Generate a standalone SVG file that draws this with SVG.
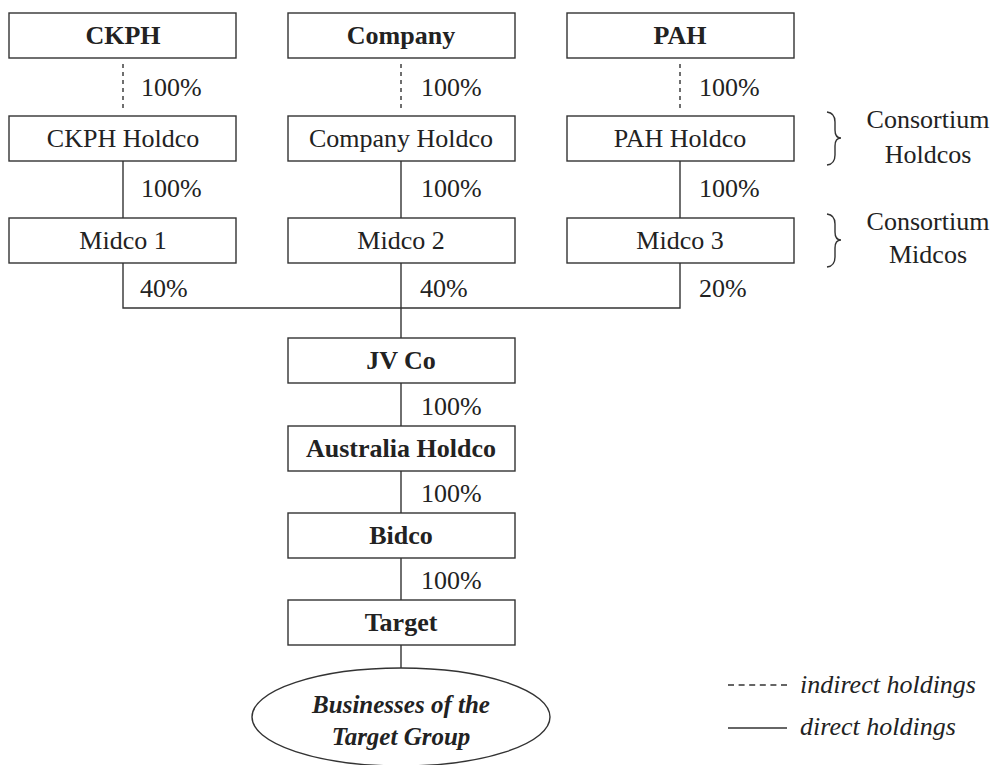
<svg xmlns="http://www.w3.org/2000/svg" width="994" height="765" viewBox="0 0 994 765" font-family="'Liberation Serif', 'DejaVu Serif', serif">
<style>
.box{fill:#fff;stroke:#333;stroke-width:1.4}
.ln{stroke:#333;stroke-width:1.4;fill:none}
.ds{stroke:#333;stroke-width:1.4;fill:none;stroke-dasharray:4,4}
text{font-family:'Liberation Serif','DejaVu Serif',serif;fill:#222}
.b{font-size:26px;font-weight:bold;text-anchor:middle}
.r{font-size:26px;text-anchor:middle}
.p{font-size:26px}
.it{font-size:26px;font-style:italic}
.bi{font-size:25px;font-weight:bold;font-style:italic;text-anchor:middle}
</style>
<rect width="994" height="765" fill="#fff"/>
<g id="connectors">
<line class="ds" x1="123" y1="64" x2="123" y2="112"/>
<line class="ds" x1="401" y1="64" x2="401" y2="112"/>
<line class="ds" x1="680" y1="64" x2="680" y2="112"/>
<line class="ln" x1="123" y1="161" x2="123" y2="218"/>
<line class="ln" x1="401" y1="161" x2="401" y2="218"/>
<line class="ln" x1="680" y1="161" x2="680" y2="218"/>
<polyline class="ln" points="123,263 123,308 680,308 680,263"/>
<line class="ln" x1="401" y1="263" x2="401" y2="338"/>
<line class="ln" x1="401" y1="383" x2="401" y2="426"/>
<line class="ln" x1="401" y1="471" x2="401" y2="513"/>
<line class="ln" x1="401" y1="558" x2="401" y2="600"/>
<line class="ln" x1="401" y1="645" x2="401" y2="668"/>
</g>
<g id="labels">
<text class="p" x="141" y="96">100%</text>
<text class="p" x="421" y="96">100%</text>
<text class="p" x="699" y="96">100%</text>
<text class="p" x="141" y="197">100%</text>
<text class="p" x="421" y="197">100%</text>
<text class="p" x="699" y="197">100%</text>
<text class="p" x="140" y="297">40%</text>
<text class="p" x="420" y="297">40%</text>
<text class="p" x="699" y="297">20%</text>
<text class="p" x="421" y="415">100%</text>
<text class="p" x="421" y="502">100%</text>
<text class="p" x="421" y="589">100%</text>
</g>
<g id="ckph"><rect class="box" x="9" y="13" width="227" height="45"/><text class="b" x="123" y="44">CKPH</text></g>
<g id="company"><rect class="box" x="288" y="13" width="227" height="45"/><text class="b" x="401" y="44">Company</text></g>
<g id="pah"><rect class="box" x="567" y="13" width="227" height="45"/><text class="b" x="680" y="44">PAH</text></g>
<g id="ckph-holdco"><rect class="box" x="9" y="116" width="227" height="45"/><text class="r" x="123" y="147">CKPH Holdco</text></g>
<g id="company-holdco"><rect class="box" x="288" y="116" width="227" height="45"/><text class="r" x="401" y="147">Company Holdco</text></g>
<g id="pah-holdco"><rect class="box" x="567" y="116" width="227" height="45"/><text class="r" x="680" y="147">PAH Holdco</text></g>
<g id="midco1"><rect class="box" x="9" y="218" width="227" height="45"/><text class="r" x="123" y="249">Midco 1</text></g>
<g id="midco2"><rect class="box" x="288" y="218" width="227" height="45"/><text class="r" x="401" y="249">Midco 2</text></g>
<g id="midco3"><rect class="box" x="567" y="218" width="227" height="45"/><text class="r" x="680" y="249">Midco 3</text></g>
<g id="jvco"><rect class="box" x="288" y="338" width="227" height="45"/><text class="b" x="401" y="369">JV Co</text></g>
<g id="australia-holdco"><rect class="box" x="288" y="426" width="227" height="45"/><text class="b" x="401" y="457">Australia Holdco</text></g>
<g id="bidco"><rect class="box" x="288" y="513" width="227" height="45"/><text class="b" x="401" y="544">Bidco</text></g>
<g id="target"><rect class="box" x="288" y="600" width="227" height="45"/><text class="b" x="401" y="631">Target</text></g>
<g id="businesses"><ellipse class="box" cx="401" cy="717" rx="149" ry="49"/><text class="bi" x="401" y="713">Businesses of the</text><text class="bi" x="401" y="745">Target Group</text></g>
<g id="consortium-holdcos">
<path class="ln" d="M827,112 Q835,113 835,122 L835,130 Q835,138 841,138 Q835,138 835,146 L835,155 Q835,164 827,165"/>
<text class="r" x="928" y="128">Consortium</text><text class="r" x="928" y="163">Holdcos</text>
</g>
<g id="consortium-midcos">
<path class="ln" d="M827,214 Q835,215 835,224 L835,232 Q835,240 841,240 Q835,240 835,248 L835,257 Q835,266 827,267"/>
<text class="r" x="928" y="230">Consortium</text><text class="r" x="928" y="263">Midcos</text>
</g>
<g id="legend">
<line class="ln" x1="728" y1="685" x2="787" y2="685" stroke-dasharray="6,4.6"/>
<text class="it" x="800" y="693">indirect holdings</text>
<line class="ln" x1="728" y1="728" x2="787" y2="728"/>
<text class="it" x="800" y="735">direct holdings</text>
</g>
</svg>
